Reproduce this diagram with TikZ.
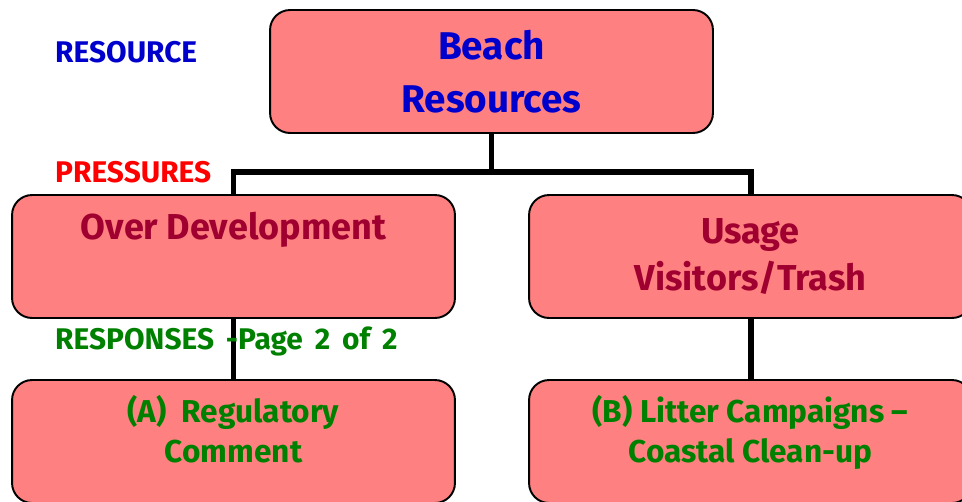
\documentclass[tikz,border=0pt]{standalone}
\usepackage{fontspec}
\setmainfont{Fira Sans}
\usetikzlibrary{positioning}

\definecolor{boxfill}{RGB}{255,128,128}
\definecolor{resblue}{RGB}{0,0,204}
\definecolor{presred}{RGB}{255,0,0}
\definecolor{presdark}{RGB}{160,0,48}
\definecolor{respgreen}{RGB}{0,128,0}

\begin{document}
\begin{tikzpicture}[x=0.02cm, y=-0.02cm,
	box/.style = {draw, line width=1.1pt, fill=boxfill, rounded corners=0.4cm,
		minimum width=8.86cm, minimum height=2.46cm, align=center, inner sep=0pt},
	link/.style = {line width=3.4pt},
	tag/.style = {anchor=west, font=\fontsize{17}{20}\selectfont\bfseries}]
	
	% Page size
	\useasboundingbox (0,0) rectangle (962,501);
	
	% Boxes
	\node[box, text=resblue, font=\fontsize{22}{30}\selectfont\bfseries] (beach) at (491.5,71.5) {Beach\\Resources};
	\node[box, text=presdark, font=\fontsize{20.5}{26.5}\selectfont\bfseries] (overdev) at (233.5,256.5) {Over Development\\ \strut};
	\node[box, text=presdark, font=\fontsize{20.5}{26.5}\selectfont\bfseries] (usage) at (750.5,256.5) {Usage\\Visitors/Trash};
	
	\node[box, label={[anchor=north, yshift=-6pt, align=center, text=respgreen,
		font=\fontsize{18}{22.7}\selectfont\bfseries]north:(A)\ \ Regulatory\\Comment}] (regul) at (233.5,441.5) {};
	\node[box, label={[anchor=north, yshift=-6pt, align=center, text=respgreen,
		font=\fontsize{18}{22.7}\selectfont\bfseries]north:(B) Litter Campaigns --\\Coastal Clean-up}] (litter) at (750.5,441.5) {};
	
	% Connectors
	\coordinate (bus) at (491.5,172);
	\draw[link] (beach.south) -- (bus);
	\draw[link] (bus) -| (overdev.north);
	\draw[link] (bus) -| (usage.north);
	\draw[link] (overdev.south) -- (regul.north);
	\draw[link] (usage.south) -- (litter.north);
	
	% Level labels
	\node[tag, text=resblue] (lvlres) at (49,52) {RESOURCE};
	\node[tag, text=presred] (lvlpres) at (49,172) {PRESSURES};
	\node[tag, text=respgreen] (lvlresp) at (49,341) {\spaceskip=0.4em\relax RESPONSES -Page 2 of 2};
	
\end{tikzpicture}
\end{document}
